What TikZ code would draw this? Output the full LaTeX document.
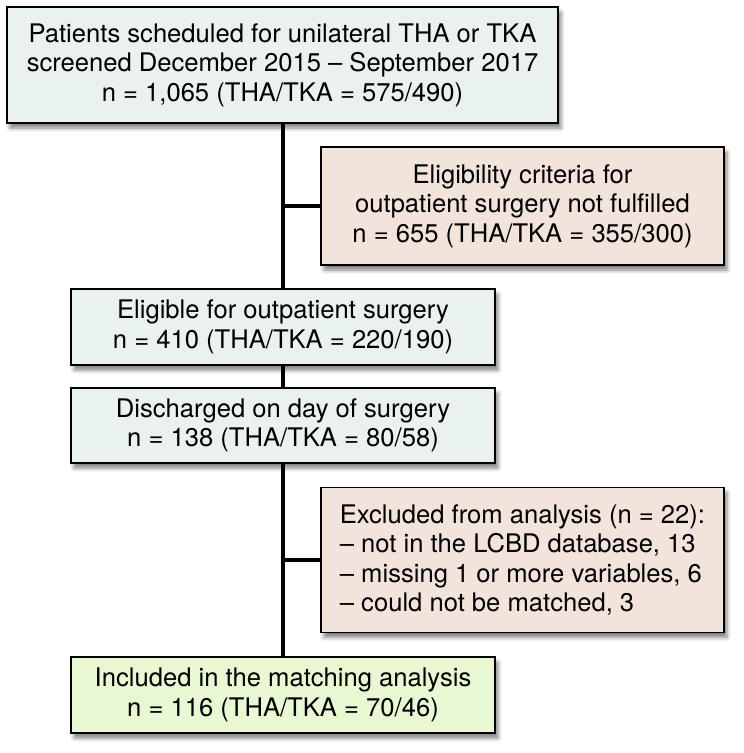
\documentclass[tikz,border=0pt]{standalone}
\usepackage{fontspec}
\setmainfont{TeX Gyre Heros}
\usetikzlibrary{shadows.blur}
\definecolor{stepgray}{RGB}{234,242,238}
\definecolor{droppink}{RGB}{242,227,219}
\definecolor{keepgreen}{RGB}{231,248,211}
\begin{document}
\begin{tikzpicture}[x=1pt,y=-1pt,
  every node/.style={font=\fontsize{25.6}{29.5}\selectfont},
  flowbox/.style={draw=black,line width=1.2pt,inner sep=0pt,align=center,
    blur shadow={shadow xshift=3pt,shadow yshift=-5pt,shadow blur radius=4pt,shadow opacity=50}},
  mainbox/.style={flowbox,fill=stepgray,minimum width=424pt,minimum height=76pt},
  outbox/.style={flowbox,fill=droppink,minimum width=403pt},
  spine/.style={line width=3.5pt}]
  \useasboundingbox (0,0) rectangle (744,753);

  % main stream of patients, centred on x = 283
  \node[flowbox,fill=stepgray,minimum width=551pt,minimum height=116pt] (screen) at (282.5,65)
    {Patients scheduled for unilateral THA or TKA\\
     screened December 2015 – September 2017\\
     n = 1,065 (THA/TKA = 575/490)};
  \node[mainbox] (elig) at (283,327)
    {Eligible for outpatient surgery\\ n = 410 (THA/TKA = 220/190)};
  \node[mainbox,minimum height=75pt] (disch) at (283,425.5)
    {Discharged on day of surgery\\ n = 138 (THA/TKA = 80/58)};
  \node[mainbox,fill=keepgreen] (incl) at (283,695)
    {Included in the matching analysis\\ n = 116 (THA/TKA = 70/46)};

  % side boxes
  \node[outbox,minimum height=118pt] (unfit) at (522.5,206)
    {Eligibility criteria for\\ outpatient surgery not fulfilled\\ n = 655 (THA/TKA = 355/300)};
  \node[outbox,minimum height=145pt,align=left] (excl) at (522.5,560)
    {Excluded from analysis (n = 22):\\
     – not in the LCBD database, 13\\
     – missing 1 or more variables, 6\\
     – could not be matched, 3};

  \draw[spine] (screen.south -| elig.north) -- (elig.north);
  \draw[spine] (elig.south) -- (disch.north);
  \draw[spine] (disch.south) -- (incl.north);
  \draw[spine] (unfit.west -| elig.north) -- (unfit.west);
  \draw[spine] (excl.west -| disch.south) -- (excl.west);
\end{tikzpicture}
\end{document}
